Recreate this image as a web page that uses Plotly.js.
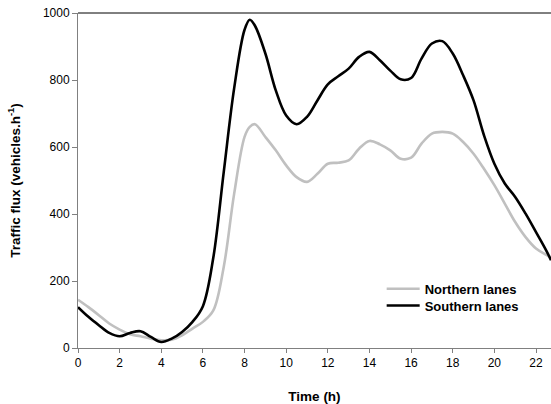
<!DOCTYPE html>
<html>
<head>
<meta charset="utf-8">
<script src="https://cdn.plot.ly/plotly-3.0.1.min.js"></script>
<style>
html,body{margin:0;padding:0;background:#fff;}
#chart{width:551px;height:404px;}
</style>
</head>
<body>
<div id="chart"></div>
<script>
// Time (h) and traffic flux (vehicles per hour)
var timeHours = [0, 0.5, 1, 1.5, 2, 2.5, 3, 3.5, 4, 4.5, 5, 5.5, 6, 6.5, 7, 7.5, 8, 8.25, 8.5, 9, 9.5,
  10, 10.5, 11, 11.5, 12, 12.5, 13, 13.5, 14, 14.5, 15, 15.5, 16, 16.5, 17, 17.5, 18, 18.5, 19, 19.5,
  20, 20.5, 21, 21.5, 22, 22.5, 22.72];

var northernFlux = [144, 122, 98, 73, 55, 41, 35, 28, 23, 25, 38, 58, 78, 112, 242, 460, 630, 660, 668, 630, 590,
  545, 510, 496, 520, 550, 553, 560, 595, 618, 608, 590, 565, 568, 610, 640, 645, 640, 615, 580, 535,
  486, 431, 376, 331, 297, 278, 270];

var southernFlux = [122, 93, 68, 45, 35, 45, 50, 33, 18, 28, 48, 78, 125, 270, 525, 775, 950, 980, 962, 879, 769,
  694, 668, 690, 739, 787, 811, 834, 869, 884, 859, 828, 802, 806, 864, 909, 916, 879, 814, 739, 635,
  550, 491, 451, 401, 346, 290, 262];

var seriesNames = ["Northern lanes", "Southern lanes"];
var xTicks = [0, 2, 4, 6, 8, 10, 12, 14, 16, 18, 20, 22];
var yTicks = [0, 200, 400, 600, 800, 1000];

var font = "Liberation Sans, Arial, sans-serif";

var traces = [
  {x: timeHours, y: northernFlux, name: seriesNames[0], type: "scatter", mode: "lines", legend: "legend",
   line: {color: "#c0c0c0", width: 2.6, shape: "spline", smoothing: 1}},
  {x: timeHours, y: southernFlux, name: seriesNames[1], type: "scatter", mode: "lines", legend: "legend2",
   line: {color: "#000000", width: 2.6, shape: "spline", smoothing: 1}}
];

var legendFont = {family: font, size: 13, color: "#000", weight: "bold"};

var layout = {
  width: 551, height: 404,
  margin: {l: 78, r: 0, t: 12.5, b: 56.3, pad: 0},
  paper_bgcolor: "#ffffff", plot_bgcolor: "#ffffff",
  font: {family: font, size: 12, color: "#000"},
  showlegend: true,
  legend: {x: 0.642, y: 0.2214, xanchor: "left", yanchor: "top", bgcolor: "rgba(0,0,0,0)",
    font: legendFont, itemwidth: 33},
  legend2: {x: 0.642, y: 0.1715, xanchor: "left", yanchor: "top", bgcolor: "rgba(0,0,0,0)",
    font: legendFont, itemwidth: 33},
  xaxis: {
    range: [0, 22.72], tickvals: xTicks, ticktext: xTicks.map(String),
    showgrid: false, zeroline: false, showline: true, linecolor: "#808080", linewidth: 1,
    ticks: "outside", ticklen: 4, tickcolor: "#808080", tickwidth: 1,
    tickfont: {family: font, size: 12, color: "#000"},
    title: {text: "<b>Time (h)</b>", font: {family: font, size: 13.5, color: "#000"}, standoff: 23}
  },
  yaxis: {
    range: [0, 1000], tickvals: yTicks, ticktext: yTicks.map(String),
    showgrid: false, zeroline: false, showline: true, linecolor: "#808080", linewidth: 1,
    ticks: "outside", ticklen: 5, tickcolor: "#808080", tickwidth: 1,
    tickfont: {family: font, size: 12, color: "#000"},
    title: {text: "<b>Traffic flux (vehicles.h<sup>-1</sup>)</b>", font: {family: font, size: 13.5, color: "#000"}, standoff: 19}
  },
  shapes: [
    {type: "line", xref: "paper", yref: "paper", x0: 0, x1: 1, y0: 1, y1: 1, line: {color: "#000", width: 1}}
  ]
};

Plotly.newPlot("chart", traces, layout, {displayModeBar: false, staticPlot: true});
</script>
</body>
</html>
